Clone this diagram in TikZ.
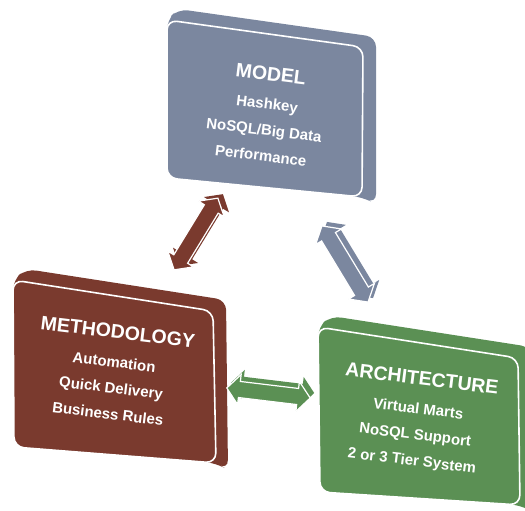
\documentclass[tikz,border=0pt]{standalone}
\usepackage{fontspec}
\setmainfont{Liberation Sans}
\usetikzlibrary{shapes.arrows,calc}

\definecolor{modelc}{HTML}{7B879F}
\definecolor{methc}{HTML}{7A3A2E}
\definecolor{archc}{HTML}{5B9054}

\tikzset{
  slab/.style={fill=#1, rounded corners=10pt},
  face/.style={fill=#1, draw=white, line width=1.6pt, rounded corners=10pt},
  boxtext/.style={text=white, font=\bfseries\fontsize{15}{26}\selectfont, align=center, rotate=-7, inner sep=0pt},
  arrowback/.style={double arrow, fill=#1, inner xsep=0pt, inner ysep=7.5pt, double arrow head extend=7pt, double arrow tip angle=100},
  arrowfront/.style={arrowback=#1, draw=white, line width=1.2pt},
}
\newcommand{\ttl}[1]{{\fontsize{19.5}{24}\selectfont #1}\\[3pt]}

\begin{document}
\begin{tikzpicture}[x=1pt,y=-1pt]
  \useasboundingbox (0,0) rectangle (525,511);

  % model block
  \fill[slab=modelc] (178,9) -- (376,37) -- (376,204) -- (362,197) -- (167,178) -- (167,20) -- cycle;
  \draw[face=modelc] (167,20) -- (363,47) -- (362,197) -- (167,178) -- cycle;
  \node[boxtext] (model) at (266,114) {\ttl{MODEL}Hashkey\\NoSQL/Big Data\\Performance};

  % methodology block
  \fill[slab=methc] (26,269) -- (226,300) -- (228,470) -- (216,463) -- (14,447) -- (13,280) -- cycle;
  \draw[face=methc] (13,280) -- (213,311) -- (216,463) -- (14,447) -- cycle;
  \node[boxtext] (method) at (113,372) {\ttl{METHODOLOGY}Automation\\Quick Delivery\\Business Rules};

  % architecture block
  \fill[slab=archc] (331,316) -- (531,347) -- (533,512) -- (520,505) -- (320,492) -- (318,327) -- cycle;
  \draw[face=archc] (318,327) -- (518,358) -- (520,505) -- (320,492) -- cycle;
  \node[boxtext] (arch) at (417,420) {\ttl{ARCHITECTURE}Virtual Marts\\NoSQL Support\\2 or 3 Tier System};

  % arrow ends
  \coordinate (mm-a) at (174,270);
  \coordinate (mm-b) at (218,198);
  \coordinate (ma-a) at (322,226);
  \coordinate (ma-b) at (368,302);
  \coordinate (ta-a) at (227,388);
  \coordinate (ta-b) at (310,398);

  % double arrows between the blocks
  \path ($(mm-a)+(5,-4)$) -- ($(mm-b)+(5,-4)$) node[midway, sloped, arrowback=methc, minimum height=84pt] (mm-back) {};
  \path (mm-a) -- (mm-b) node[midway, sloped, arrowfront=methc, minimum height=84pt] (mm-arrow) {};
  \path ($(ma-a)+(5,-4)$) -- ($(ma-b)+(5,-4)$) node[midway, sloped, arrowback=modelc, minimum height=89pt] (ma-back) {};
  \path (ma-a) -- (ma-b) node[midway, sloped, arrowfront=modelc, minimum height=89pt] (ma-arrow) {};
  \path ($(ta-a)+(4,-5)$) -- ($(ta-b)+(4,-5)$) node[midway, sloped, arrowback=archc, minimum height=84pt] (ta-back) {};
  \path (ta-a) -- (ta-b) node[midway, sloped, arrowfront=archc, minimum height=84pt] (ta-arrow) {};
\end{tikzpicture}
\end{document}
